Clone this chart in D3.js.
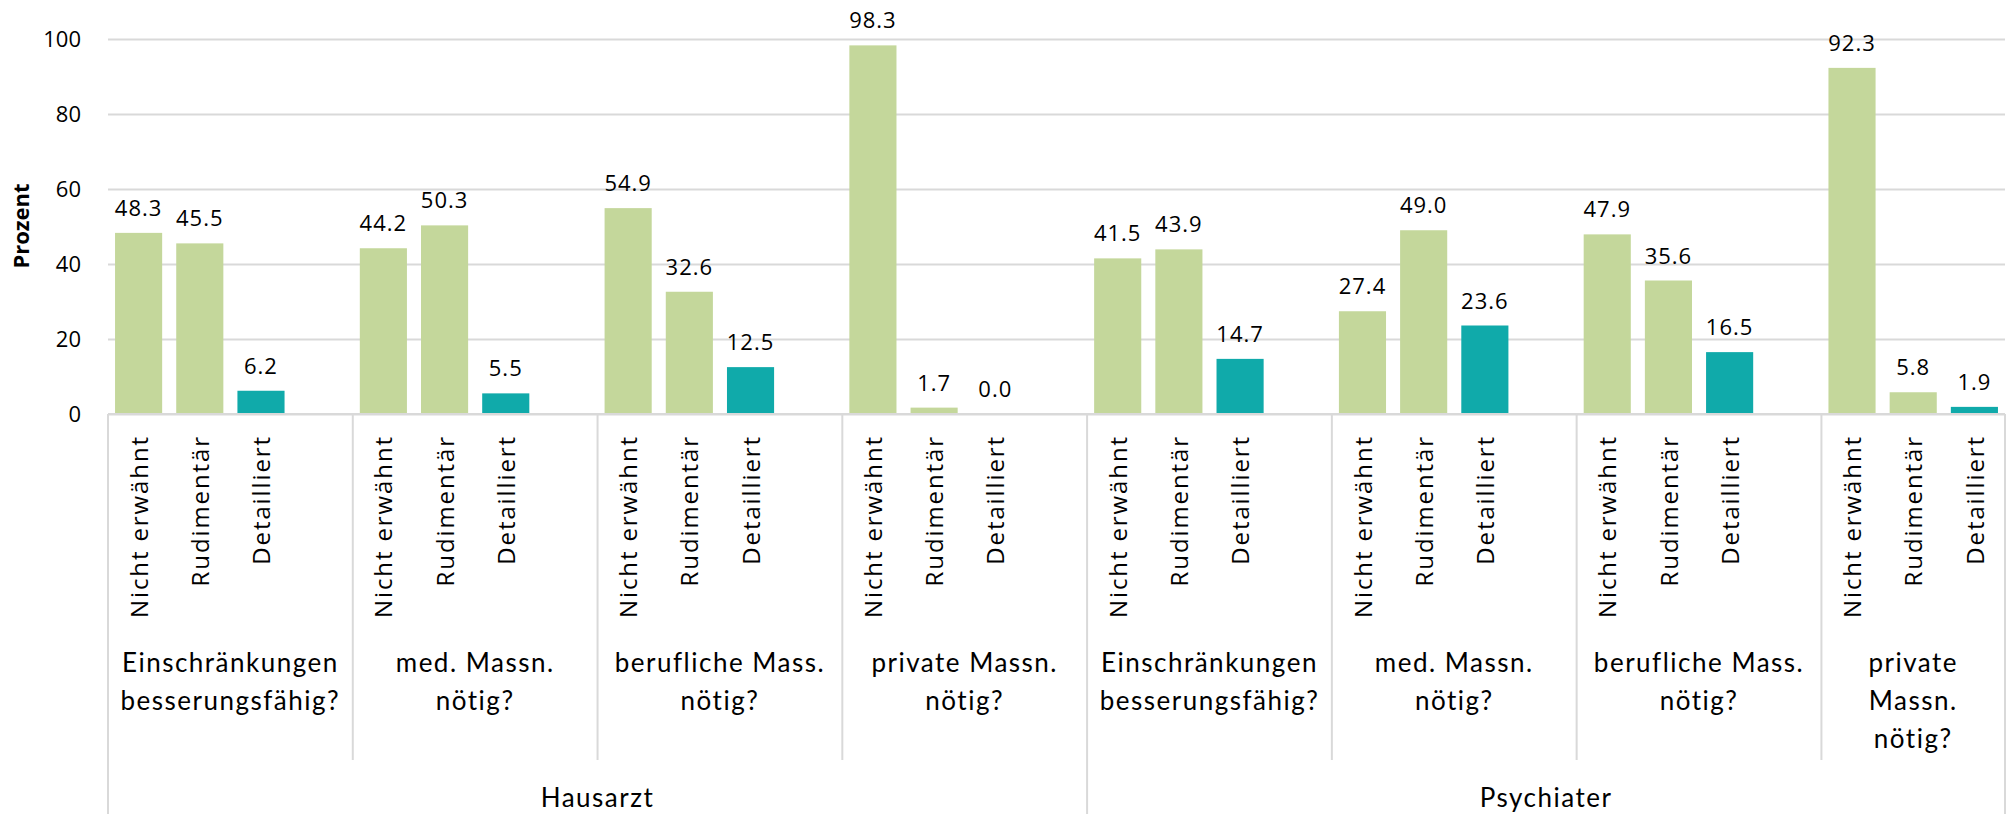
<!DOCTYPE html>
<html>
<head>
<meta charset="utf-8">
<script src="https://cdn.jsdelivr.net/npm/d3@7"></script>
<style>
  body { margin: 0; background: #ffffff; }
</style>
</head>
<body>
<div id="chart"></div>
<script>
// data
var doctors = ["Hausarzt", "Psychiater"];
var questions = [
    ["Einschränkungen", "besserungsfähig?"],
    ["med. Massn.", "nötig?"],
    ["berufliche Mass.", "nötig?"],
    ["private Massn.", "nötig?"]
];
// the last box is narrower in the original, so its label wraps to three lines
var lastQuestionLines = ["private", "Massn.", "nötig?"];
var levels = ["Nicht erwähnt", "Rudimentär", "Detailliert"];
var hausarztValues = [
    [48.3, 45.5, 6.2],
    [44.2, 50.3, 5.5],
    [54.9, 32.6, 12.5],
    [98.3, 1.7, 0.0]
];
var psychiaterValues = [
    [41.5, 43.9, 14.7],
    [27.4, 49.0, 23.6],
    [47.9, 35.6, 16.5],
    [92.3, 5.8, 1.9]
];
var yTicks = [0, 20, 40, 60, 80, 100];

var width = 2009;
var height = 814;
var margin = {top: 39, left: 108, right: 4};
var baseY = 414;

var green = "#c4d79b";
var teal = "#10aaaa";
var gridColor = "#d9d9d9";

// build one slot per bar, plus an empty slot after every question but the last
var allValues = [hausarztValues, psychiaterValues];
var slots = [];
var bars = [];
var boxes = [];
doctors.forEach(function(doc, di) {
    questions.forEach(function(q, qi) {
        var ids = [];
        levels.forEach(function(lv, li) {
            var id = di + "-" + qi + "-" + li;
            slots.push(id);
            ids.push(id);
            bars.push({id: id, level: lv, li: li, value: allValues[di][qi][li]});
        });
        var isLast = (di == doctors.length - 1 && qi == questions.length - 1);
        if (!isLast) slots.push(di + "-" + qi + "-gap");
        boxes.push({doctor: di, q: qi, first: ids[0],
                    gap: isLast ? null : di + "-" + qi + "-gap",
                    lines: isLast ? lastQuestionLines : q});
    });
});

var x = d3.scaleBand()
    .domain(slots)
    .range([margin.left, width - margin.right])
    .paddingInner(0.23)
    .paddingOuter(0.115);

var y = d3.scaleLinear()
    .domain([0, 100])
    .range([baseY, margin.top]);

function slotStart(id) {
    return x(id) - x.step() * 0.115;
}
function slotEnd(id) {
    return x(id) + x.bandwidth() + x.step() * 0.115;
}

var svg = d3.select("#chart").append("svg")
    .attr("width", width)
    .attr("height", height)
    .style("font-family", "Open Sans");

var x0 = margin.left;
var x1 = width - margin.right;

// gridlines
svg.append("g")
    .attr("transform", "translate(" + x0 + ",0)")
    .call(d3.axisLeft(y).tickValues(yTicks).tickSize(-(x1 - x0)).tickFormat(""))
    .call(function(g) { g.select(".domain").remove(); })
    .selectAll("line")
    .attr("stroke", gridColor)
    .attr("stroke-width", 2);

// y tick labels
svg.append("g")
    .attr("transform", "translate(81,0)")
    .call(d3.axisLeft(y).tickValues(yTicks).tickSize(0).tickPadding(0))
    .call(function(g) { g.select(".domain").remove(); })
    .selectAll("text")
    .attr("font-size", 22)
    .attr("font-family", "Open Sans")
    .attr("fill", "#000000");

// y axis title
svg.append("text")
    .attr("transform", "translate(21,226) rotate(-90)")
    .attr("text-anchor", "middle")
    .attr("dy", "0.35em")
    .attr("font-size", 22)
    .attr("font-weight", "bold")
    .text("Prozent");

// bars
svg.append("g").selectAll("rect")
    .data(bars)
    .enter().append("rect")
    .attr("x", function(d) { return x(d.id); })
    .attr("width", x.bandwidth())
    .attr("y", function(d) { return y(d.value); })
    .attr("height", function(d) { return baseY - y(d.value); })
    .attr("fill", function(d) { return d.li == 2 ? teal : green; });

// value labels
svg.append("g").selectAll("text")
    .data(bars)
    .enter().append("text")
    .attr("x", function(d) { return x(d.id) + x.bandwidth() / 2; })
    .attr("y", function(d) { return y(d.value) - 17; })
    .attr("text-anchor", "middle")
    .attr("font-size", 22)
    .attr("letter-spacing", "1px")
    .text(function(d) { return d.value.toFixed(1); });

// category axis line
svg.append("line")
    .attr("x1", x0).attr("x2", x1)
    .attr("y1", baseY).attr("y2", baseY)
    .attr("stroke", gridColor)
    .attr("stroke-width", 2);

// level labels (rotated)
svg.append("g").selectAll("text")
    .data(bars)
    .enter().append("text")
    .attr("transform", function(d) {
        return "translate(" + (x(d.id) + x.bandwidth() / 2) + ",435) rotate(-90)";
    })
    .attr("text-anchor", "end")
    .attr("dy", "0.38em")
    .attr("font-size", 24)
    .attr("letter-spacing", "1.9px")
    .text(function(d) { return d.level; });

// question boxes: dividers and labels
boxes.forEach(function(b, i) {
    var left = slotStart(b.first);
    var right = b.gap ? slotEnd(b.gap) : x1;
    if (i > 0 && b.q > 0) {
        svg.append("line")
            .attr("x1", left).attr("x2", left)
            .attr("y1", baseY).attr("y2", 760)
            .attr("stroke", gridColor)
            .attr("stroke-width", 2);
    }
    var t = svg.append("text")
        .attr("text-anchor", "middle")
        .attr("font-family", "Lato")
        .attr("font-size", 26)
        .attr("letter-spacing", "1.5px");
    b.lines.forEach(function(line, li) {
        t.append("tspan")
            .attr("x", (left + right) / 2)
            .attr("y", 672 + li * 38)
            .text(line);
    });
});

// doctor boundaries and labels
var doctorEdges = [x0];
doctors.forEach(function(doc, di) {
    var firstBox = boxes.filter(function(b) { return b.doctor == di; })[0];
    var lastBox = boxes.filter(function(b) { return b.doctor == di; })[questions.length - 1];
    var left = slotStart(firstBox.first);
    var right = lastBox.gap ? slotEnd(lastBox.gap) : x1;
    doctorEdges.push(right);
    svg.append("text")
        .attr("x", (left + right) / 2)
        .attr("y", 807)
        .attr("text-anchor", "middle")
        .attr("font-family", "Lato")
        .attr("font-size", 26)
        .attr("letter-spacing", "1.5px")
        .text(doc);
});

svg.append("g").selectAll("line")
    .data(doctorEdges)
    .enter().append("line")
    .attr("x1", function(d) { return d; })
    .attr("x2", function(d) { return d; })
    .attr("y1", baseY)
    .attr("y2", height)
    .attr("stroke", gridColor)
    .attr("stroke-width", 2);
</script>
</body>
</html>
